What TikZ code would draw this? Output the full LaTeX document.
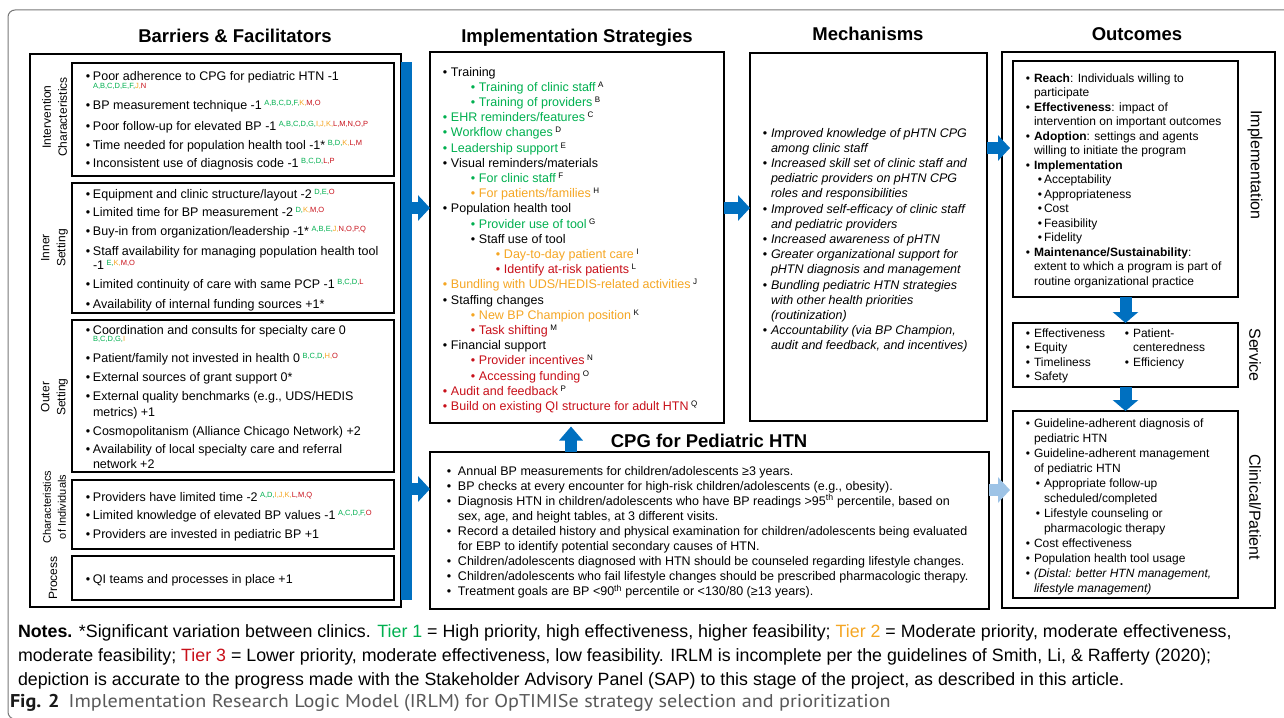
\documentclass[tikz,border=0pt]{standalone}
\usepackage{fontspec}
\setmainfont{Liberation Sans}
\newfontfamily\capfont[FakeStretch=1.09]{PT Sans}
\usetikzlibrary{arrows.meta}
\definecolor{myblue}{RGB}{0,112,192}
\definecolor{lblue}{RGB}{157,195,230}
\definecolor{tgreen}{RGB}{0,176,80}
\definecolor{torange}{RGB}{245,166,35}
\definecolor{tred}{RGB}{200,16,26}
\definecolor{framegray}{RGB}{120,120,120}
\newcommand\grn[1]{\textcolor{tgreen}{#1}}
\newcommand\org[1]{\textcolor{torange}{#1}}
\newcommand\rdd[1]{\textcolor{tred}{#1}}
\newcommand\supl[1]{\hspace{2.5pt}\raisebox{3.6pt}{\fontsize{7.5}{8}\selectfont #1}}
\newcommand\supk[1]{\hspace{2.5pt}\raisebox{4pt}{\fontsize{8}{8}\selectfont\color{black}#1}}
\newcommand\bulA{\hspace*{-2.2pt}\makebox[7.2pt][l]{\textbullet}}
\newcommand\bulB{\hspace*{-2.2pt}\makebox[8.2pt][l]{\textbullet}}
\newcommand\bulC{\hspace*{-2.2pt}\makebox[6.2pt][l]{\textbullet}}
\newcommand\bulD{\hspace*{-2.2pt}\makebox[11.2pt][l]{\textbullet}}
\newcount\tcnt
\tikzset{
 tx/.style={anchor=base west, inner sep=0pt, outer sep=0pt, font=\fontsize{12.5}{15}\selectfont},
 bx/.style={draw=black, line width=1.3pt, inner sep=0pt, outer sep=0pt, anchor=north west},
 ttl/.style={inner sep=0pt, anchor=base, font=\fontsize{18.5}{20}\selectfont\bfseries},
 lab/.style={inner sep=0pt, align=center, font=\fontsize{12}{16}\selectfont},
 bigarrow/.style={draw=myblue, line width=12pt, -{Triangle[width=25pt,length=12pt]}},
}
\newcommand\putline[4][]{\global\advance\tcnt by 1\relax\node[tx,#1] (t\the\tcnt) at (#2,#3) {#4};}
\newcommand\boxat[5]{\node[bx, minimum width={#4-#2}, minimum height={#5-#3}] (#1) at (#2,#3) {};}
\begin{document}
\begin{tikzpicture}[x=1pt,y=-1pt]
\useasboundingbox (0,0) rectangle (1284,717);
\clip (0,0) rectangle (1284,717);
\fill[white] (0,0) rectangle (1284,717);
\draw[rounded corners=7pt, draw=framegray, line width=1pt] (8,10) rectangle (1310,719);

% titles
\node[ttl] (tbar) at (235,43) {Barriers \& Facilitators};
\node[ttl] (timp) at (577,43) {Implementation Strategies};
\node[ttl] (tmech) at (868,41) {Mechanisms};
\node[ttl] (tout) at (1137,41) {Outcomes};
\node[ttl] (tcpg) at (709,447) {CPG for Pediatric HTN};

% boxes
\boxat{bar0}{30}{54}{401}{607}
\boxat{bic}{72}{63}{394}{176}
\boxat{bis}{72}{183}{394}{313}
\boxat{bos}{72}{320}{394}{472}
\boxat{bci}{72}{480}{394}{549}
\boxat{bpr}{72}{556}{394}{600}
\boxat{impl}{430}{52}{724}{423}
\boxat{mech}{750}{53}{987}{421}
\boxat{cpg}{430}{452}{989}{609}
\boxat{oout}{1002}{52}{1275}{608}
\boxat{oimp}{1013}{61}{1238}{297}
\boxat{oserv}{1013}{323}{1238}{387}
\boxat{oclin}{1013}{411}{1238}{598}
\node[fill=myblue, anchor=north west, minimum width=11, minimum height=538, inner sep=0pt, outer sep=0pt] (bar) at (401,62) {};

% arrows
\draw[bigarrow] (bar.east |- 0,208) -- (impl.west |- 0,208);
\draw[bigarrow] (bar.east |- 0,489) -- (cpg.west |- 0,489);
\draw[bigarrow] (impl.east |- 0,208) -- (mech.west |- 0,208);
\draw[bigarrow, shorten >=3pt] (mech.east |- 0,148) -- (oimp.west |- 0,148);
\draw[bigarrow, draw=lblue, shorten >=3pt] (cpg.east |- 0,490) -- (oclin.west |- 0,490);
\draw[bigarrow, -{Triangle[width=23pt,length=14pt]}, shorten >=3.5pt] (cpg.north -| 571,0) -- (impl.south -| 571,0);
\draw[bigarrow, -{Triangle[width=25pt,length=11pt]}] (oimp.south) -- (oserv.north);
\draw[bigarrow, -{Triangle[width=25pt,length=11pt]}] (oserv.south) -- (oclin.north);

% barrier labels
\node[lab, rotate=90] (lic) at (54.5,117) {Intervention\\Characteristics};
\node[lab, rotate=90] (lis) at (54.5,248) {Inner\\Setting};
\node[lab, rotate=90] (los) at (54.5,397) {Outer\\Setting};
\node[lab, rotate=90, font=\fontsize{11}{15}\selectfont] (lci) at (54.5,507) {Characteristics\\of Individuals};
\node[lab, rotate=90] (lpr) at (53,578) {Process};

% barriers text
\putline{88}{81}{\bulA Poor adherence to CPG for pediatric HTN -1}
\putline[font=\fontsize{7.5}{8}\selectfont]{93}{88.5}{\grn{A,B,C,D,E,F,}\org{J,}\rdd{N}}
\putline{88}{109}{\bulA BP measurement technique -1\supl{\grn{A,B,C,D,F,}\org{K,}\rdd{M,O}}}
\putline{88}{130}{\bulA Poor follow-up for elevated BP -1\supl{\grn{A,B,C,D,G,}\org{I,J,K,}\rdd{L,M,N,O,P}}}
\putline{88}{149}{\bulA Time needed for population health tool -1*\supl{\grn{B,D,}\org{K,}\rdd{L,M}}}
\putline{88}{167}{\bulA Inconsistent use of diagnosis code -1\supl{\grn{B,C,D,}\rdd{L,P}}}
\putline{88}{198}{\bulA Equipment and clinic structure/layout -2\supl{\grn{D,E,}\rdd{O}}}
\putline{88}{216}{\bulA Limited time for BP measurement -2\supl{\grn{D,}\org{K,}\rdd{M,O}}}
\putline{88}{235}{\bulA Buy-in from organization/leadership -1*\supl{\grn{A,B,E,}\org{J,}\rdd{N,O,P,Q}}}
\putline{88}{255}{\bulA Staff availability for managing population health tool}
\putline{93}{269}{-1\supl{\grn{E,}\org{K,}\rdd{M,O}}}
\putline{88}{288}{\bulA Limited continuity of care with same PCP -1\supl{\grn{B,C,D,}\rdd{L}}}
\putline{88}{308}{\bulA Availability of internal funding sources +1*}
\putline{88}{334}{\bulA Coordination and consults for specialty care 0}
\putline[font=\fontsize{7.5}{8}\selectfont]{93}{341.5}{\grn{B,C,D,G,}\org{I}}
\putline{88}{362}{\bulA Patient/family not invested in health 0\supl{\grn{B,C,D,}\org{H,}\rdd{O}}}
\putline{88}{381}{\bulA External sources of grant support 0*}
\putline{88}{400}{\bulA External quality benchmarks (e.g., UDS/HEDIS}
\putline{93}{416}{metrics) +1}
\putline{88}{435}{\bulA Cosmopolitanism (Alliance Chicago Network) +2}
\putline{88}{453}{\bulA Availability of local specialty care and referral}
\putline{93}{468}{network +2}
\putline{88}{501}{\bulA Providers have limited time -2\supl{\grn{A,D,}\org{I,J,K,}\rdd{L,M,Q}}}
\putline{88}{519}{\bulA Limited knowledge of elevated BP values -1\supl{\grn{A,C,D,F,}\rdd{O}}}
\putline{88}{538}{\bulA Providers are invested in pediatric BP +1}
\putline{88}{583}{\bulA QI teams and processes in place +1}

% implementation strategies
\putline{445}{76}{\bulB Training}
\putline{473}{91.2}{\color{tgreen}\bulB Training of clinic staff\supk{A}}
\putline{473}{106.4}{\color{tgreen}\bulB Training of providers\supk{B}}
\putline{445}{121.6}{\color{tgreen}\bulB EHR reminders/features\supk{C}}
\putline{445}{136.8}{\color{tgreen}\bulB Workflow changes\supk{D}}
\putline{445}{152}{\color{tgreen}\bulB Leadership support\supk{E}}
\putline{445}{167.2}{\bulB Visual reminders/materials}
\putline{473}{182.4}{\color{tgreen}\bulB For clinic staff\supk{F}}
\putline{473}{197.6}{\color{torange}\bulB For patients/families\supk{H}}
\putline{445}{212.8}{\bulB Population health tool}
\putline{473}{228}{\color{tgreen}\bulB Provider use of tool\supk{G}}
\putline{473}{243.2}{\bulB Staff use of tool}
\putline{498}{258.4}{\color{torange}\bulB Day-to-day patient care\supk{I}}
\putline{498}{273.6}{\color{tred}\bulB Identify at-risk patients\supk{L}}
\putline{445}{288.8}{\color{torange}\bulB Bundling with UDS/HEDIS-related activities\supk{J}}
\putline{445}{304}{\bulB Staffing changes}
\putline{473}{319.2}{\color{torange}\bulB New BP Champion position\supk{K}}
\putline{473}{334.4}{\color{tred}\bulB Task shifting\supk{M}}
\putline{445}{349.6}{\bulB Financial support}
\putline{473}{364.8}{\color{tred}\bulB Provider incentives\supk{N}}
\putline{473}{380}{\color{tred}\bulB Accessing funding\supk{O}}
\putline{445}{395.2}{\color{tred}\bulB Audit and feedback\supk{P}}
\putline{445}{410.4}{\color{tred}\bulB Build on existing QI structure for adult HTN\supk{Q}}

% mechanisms
\putline{765}{137}{\bulB\itshape Improved knowledge of pHTN CPG}
\putline{771}{152.2}{\itshape among clinic staff}
\putline{765}{167.4}{\bulB\itshape Increased skill set of clinic staff and}
\putline{771}{182.6}{\itshape pediatric providers on pHTN CPG}
\putline{771}{197.8}{\itshape roles and responsibilities}
\putline{765}{213}{\bulB\itshape Improved self-efficacy of clinic staff}
\putline{771}{228.2}{\itshape and pediatric providers}
\putline{765}{243.4}{\bulB\itshape Increased awareness of pHTN}
\putline{765}{258.6}{\bulB\itshape Greater organizational support for}
\putline{771}{273.8}{\itshape pHTN diagnosis and management}
\putline{765}{289}{\bulB\itshape Bundling pediatric HTN strategies}
\putline{771}{304.2}{\itshape with other health priorities}
\putline{771}{319.4}{\itshape (routinization)}
\putline{765}{334.6}{\bulB\itshape Accountability (via BP Champion,}
\putline{771}{349.8}{\itshape audit and feedback, and incentives)}

% outcomes
\begin{scope}[tx/.append style={font=\fontsize{12}{14}\selectfont}]
\putline{1028}{82}{\bulB\textbf{Reach}: Individuals willing to}
\putline{1034}{96.5}{participate}
\putline{1028}{111}{\bulB\textbf{Effectiveness}: impact of}
\putline{1034}{125.5}{intervention on important outcomes}
\putline{1028}{140}{\bulB\textbf{Adoption}: settings and agents}
\putline{1034}{154.5}{willing to initiate the program}
\putline{1028}{169}{\bulB\textbf{Implementation}}
\putline{1040}{183.5}{\bulC Acceptability}
\putline{1040}{198}{\bulC Appropriateness}
\putline{1040}{212.5}{\bulC Cost}
\putline{1040}{227}{\bulC Feasibility}
\putline{1040}{241.5}{\bulC Fidelity}
\putline{1028}{256}{\bulB\textbf{Maintenance/Sustainability}:}
\putline{1034}{270.5}{extent to which a program is part of}
\putline{1034}{285}{routine organizational practice}
\putline{1028}{337}{\bulB Effectiveness}
\putline{1028}{351.5}{\bulB Equity}
\putline{1028}{366}{\bulB Timeliness}
\putline{1028}{380.5}{\bulB Safety}
\putline{1127}{337}{\bulB Patient-}
\putline{1133}{351.5}{centeredness}
\putline{1127}{366}{\bulB Efficiency}
\putline{1028}{427}{\bulB Guideline-adherent diagnosis of}
\putline{1034}{442}{pediatric HTN}
\putline{1028}{457}{\bulB Guideline-adherent management}
\putline{1034}{472}{of pediatric HTN}
\putline{1038}{487}{\bulB Appropriate follow-up}
\putline{1044}{502}{scheduled/completed}
\putline{1038}{517}{\bulB Lifestyle counseling or}
\putline{1044}{532}{pharmacologic therapy}
\putline{1028}{547}{\bulB Cost effectiveness}
\putline{1028}{562}{\bulB Population health tool usage}
\putline{1028}{577}{\bulB\itshape (Distal: better HTN management,}
\putline{1034}{592}{\itshape lifestyle management)}
\end{scope}
\node[lab, rotate=-90, font=\fontsize{16}{18}\selectfont] (loi) at (1255,165) {Implementation};
\node[lab, rotate=-90, font=\fontsize{16}{18}\selectfont] (los2) at (1255,355) {Service};
\node[lab, rotate=-90, font=\fontsize{16}{18}\selectfont] (loc) at (1255,507) {Clinical/Patient};

% CPG
\putline{449}{475}{\bulD Annual BP measurements for children/adolescents ≥3 years.}
\putline{449}{490.1}{\bulD BP checks at every encounter for high-risk children/adolescents (e.g., obesity).}
\putline{449}{505.2}{\bulD Diagnosis HTN in children/adolescents who have BP readings >95\textsuperscript{th} percentile, based on}
\putline{458}{520.3}{sex, age, and height tables, at 3 different visits.}
\putline{449}{535.4}{\bulD Record a detailed history and physical examination for children/adolescents being evaluated}
\putline{458}{550.5}{for EBP to identify potential secondary causes of HTN.}
\putline{449}{565.6}{\bulD Children/adolescents diagnosed with HTN should be counseled regarding lifestyle changes.}
\putline{449}{580.7}{\bulD Children/adolescents who fail lifestyle changes should be prescribed pharmacologic therapy.}
\putline{449}{595.8}{\bulD Treatment goals are BP <90\textsuperscript{th} percentile or <130/80 (≥13 years).}

% notes
\begin{scope}[tx/.append style={font=\fontsize{17.8}{20}\selectfont}]
\putline{18}{637}{\textbf{Notes.} *Significant variation between clinics. \textcolor{tgreen}{Tier 1} = High priority, high effectiveness, higher feasibility; \textcolor{torange}{Tier 2} = Moderate priority, moderate effectiveness,}
\putline{18}{661}{moderate feasibility; \textcolor{tred}{Tier 3} = Lower priority, moderate effectiveness, low feasibility. IRLM is incomplete per the guidelines of Smith, Li, \& Rafferty (2020);}
\putline{18}{685}{depiction is accurate to the progress made with the Stakeholder Advisory Panel (SAP) to this stage of the project, as described in this article.}
\end{scope}
\putline[font=\capfont\fontsize{18.5}{20}\selectfont, text=black!65]{10}{707}{\textbf{\color{black!90}Fig. 2}\hspace{9pt}Implementation Research Logic Model (IRLM) for OpTIMISe strategy selection and prioritization}
\end{tikzpicture}
\end{document}
